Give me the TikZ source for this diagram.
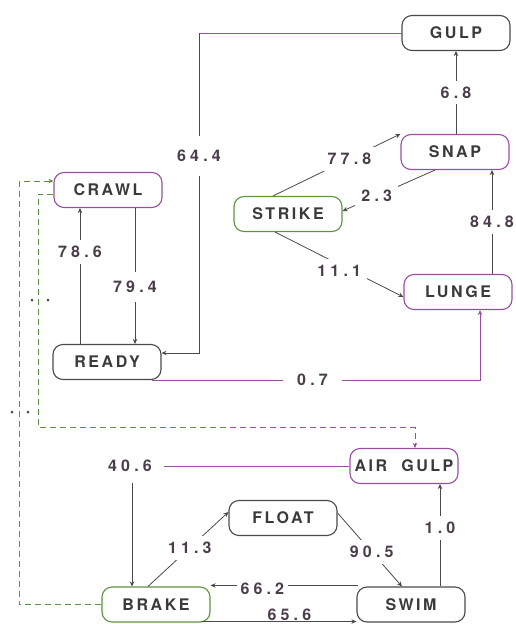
\documentclass[tikz,border=0pt]{standalone}
\usepackage{fontspec}
\newfontfamily\nodefont[LetterSpace=16]{TeX Gyre Heros}
\newfontfamily\labfont[LetterSpace=26]{TeX Gyre Heros}
\usetikzlibrary{arrows.meta,calc}
\definecolor{ink}{HTML}{4A4A4A}
\definecolor{txt}{HTML}{3A3A3A}
\definecolor{purp}{HTML}{9A4EA2}
\definecolor{grn}{HTML}{5E9440}
\definecolor{labc}{HTML}{4A3E4A}
\tikzset{
  state/.style={draw=ink, line width=1.1pt, rounded corners=10pt,
    minimum width=108pt, minimum height=35pt, inner sep=0pt,
    font=\nodefont\bfseries\fontsize{16}{18}\selectfont, text=txt},
  lbl/.style={fill=white, inner xsep=6pt, inner ysep=6pt,
    font=\labfont\bfseries\fontsize{16}{18}\selectfont, text=labc},
  ln/.style={draw=ink, line width=0.8pt},
  arr/.style={ln, -{Stealth[length=5pt,width=4.5pt]}},
  dsh/.style={arr, dash pattern=on 6pt off 4pt},
  dshl/.style={ln, dash pattern=on 6pt off 4pt},
  dotmark/.style={circle, fill=ink, inner sep=0pt, minimum size=3pt}
}
\begin{document}
\begin{tikzpicture}[x=1pt,y=-1pt]
\useasboundingbox (0,0) rectangle (515,624);
\clip (0,0) rectangle (515,624);

% states
\node[state] (GULP) at (456,33) {GULP};
\node[state, draw=purp] (SNAP) at (455,152) {SNAP};
\node[state, draw=grn] (STRIKE) at (288,214) {STRIKE};
\node[state, draw=purp] (LUNGE) at (458,292) {LUNGE};
\node[state, draw=purp] (CRAWL) at (108,190) {CRAWL};
\node[state] (READY) at (107,362) {READY};
\node[state, draw=purp] (AIRGULP) at (404,466) {AIR\ \ GULP};
\node[state] (FLOAT) at (283,518) {FLOAT};
\node[state, draw=grn] (BRAKE) at (156,604.5) {BRAKE};
\node[state] (SWIM) at (411,604.5) {SWIM};

% upper cluster
\draw[arr] (SNAP.north -| GULP.south) -- (GULP.south) node[lbl, midway]{6.8};
\draw[arr] ([xshift=-15pt]STRIKE.north) -- (SNAP.north west) node[lbl, pos=0.6]{77.8};
\draw[arr] ([xshift=-20pt]SNAP.south) -- ([yshift=3pt]STRIKE.east) node[lbl, pos=0.63]{2.3};
\draw[arr] ([xshift=-13pt]STRIKE.south) -- ([yshift=-5pt]LUNGE.west) node[lbl, pos=0.5, yshift=-6pt]{11.1};
\draw[arr] ([xshift=34pt]LUNGE.north) -- ([xshift=34pt]LUNGE.north |- SNAP.south) node[lbl, midway]{84.8};

% READY -> LUNGE
\draw[arr, draw=purp] ([xshift=-10pt]READY.south east) -- node[lbl, pos=0.49, inner xsep=14pt]{0.7}
  ([xshift=22pt]LUNGE.south |- READY.south) -- ([xshift=22pt]LUNGE.south);

% GULP -> READY
\draw[ln, draw=purp] (GULP.west) -- (199,33) coordinate (g1);
\draw[arr] (g1) -- node[lbl, pos=0.385, inner ysep=14pt]{64.4} (199,353) -- ([yshift=9pt]READY.east);

% CRAWL <-> READY
\draw[arr] ([xshift=27pt]CRAWL.south) -- ([xshift=27pt]CRAWL.south |- READY.north) node[lbl, pos=0.58, inner ysep=9pt]{79.4};
\draw[arr] ([xshift=-27pt]READY.north) -- ([xshift=-27pt]READY.north |- CRAWL.south) node[lbl, pos=0.675]{78.6};

% dashed connectors
\draw[dsh, draw=grn] (BRAKE.west) -- ++(-82,0) |- ([yshift=9pt]CRAWL.west);
\draw[dshl, draw=grn] ([yshift=-4pt]CRAWL.west) -- ++(-15,0) |- (230,427.5) coordinate (d1);
\draw[dsh, draw=purp] (d1) -| ([xshift=11pt]AIRGULP.north);
\node[dotmark] (p1) at (32,300) {};
\node[dotmark] (p2) at (48,300) {};
\node[dotmark] (p3) at (12,412) {};
\node[dotmark] (p4) at (28,412) {};

% lower cluster
\draw[ln, draw=purp] (AIRGULP.west) -- ([xshift=-24pt]BRAKE.north |- AIRGULP.west) coordinate (k2);
\draw[arr] (k2) -- ([xshift=-24pt]BRAKE.north);
\node[lbl, inner xsep=12pt, inner ysep=11pt] (l406) at ([xshift=-2pt]k2) {40.6};
\draw[arr] ([xshift=-8pt]BRAKE.north) -- ([yshift=6pt]FLOAT.west) node[lbl, pos=0.52]{11.3};
\draw[arr] ([yshift=5pt]FLOAT.east) -- ([xshift=-9pt]SWIM.north) node[lbl, pos=0.53]{90.5};
\draw[arr] ([xshift=29pt]SWIM.north) -- ([xshift=29pt]SWIM.north |- AIRGULP.south) node[lbl, pos=0.57]{1.0};
\draw[arr] ([xshift=2pt,yshift=1pt]SWIM.north west) -- ([yshift=1pt]BRAKE.north east) node[lbl, pos=0.65, yshift=-3pt, inner xsep=4pt, inner ysep=3pt]{66.2};
\draw[arr] ([xshift=-10pt,yshift=1pt]BRAKE.south east) -- ([yshift=1pt]SWIM.south west) node[lbl, pos=0.57, yshift=7pt, inner ysep=1pt]{65.6};
\end{tikzpicture}
\end{document}
